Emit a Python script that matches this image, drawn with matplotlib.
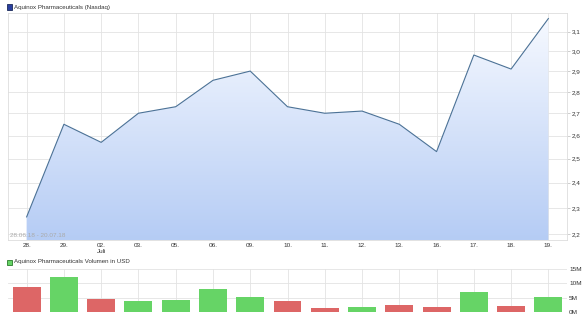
import numpy as np
import matplotlib.pyplot as plt
from matplotlib.patches import Rectangle
from matplotlib.ticker import FixedLocator, NullLocator, FuncFormatter

# data
days = ["28.", "29.", "02.\nJuli", "03.", "05.", "06.", "09.", "10.",
        "11.", "12.", "13.", "16.", "17.", "18.", "19."]
price = [2.265, 2.65, 2.57, 2.70, 2.73, 2.855, 2.90, 2.73,
         2.70, 2.71, 2.65, 2.53, 2.98, 2.91, 3.17]
volume = [8.6, 12.1, 4.5, 3.8, 4.1, 7.9, 5.2, 3.8,
          1.3, 1.7, 2.6, 1.7, 6.9, 2.1, 5.2]  # millions USD
vol_up = [False, True, False, True, True, True, True, False,
          False, True, False, False, True, False, True]
price_ticks = [2.2, 2.3, 2.4, 2.5, 2.6, 2.7, 2.8, 2.9, 3.0, 3.1]
vol_ticks = [0, 5, 10, 15]

plt.rcParams['font.family'] = ['Liberation Sans', 'DejaVu Sans']
grid_c = "#e3e3e3"
text_c = "#333333"
green = "#66d466"
red = "#dd6666"

fig = plt.figure(figsize=(5.82, 3.21), dpi=100)
W, H = 582, 321

def box(l, t, r, b):
    return [l / W, 1 - b / H, (r - l) / W, (b - t) / H]

def legend_key(y, face, edge, label):
    fig.patches.append(Rectangle((7 / W, 1 - (y + 2.5) / H), 5 / W, 5 / H,
                                 transform=fig.transFigure, facecolor=face,
                                 edgecolor=edge, lw=0.6))
    fig.text(14 / W, 1 - y / H, label, fontsize=4.4, color=text_c, va="center")

x = np.arange(len(days))

# price panel
ax = fig.add_axes(box(8, 13, 567, 240))
ax.set_yscale("log")
ax.set_xlim(-0.5, len(days) - 0.5)
ax.set_ylim(2.178, 3.20)

poly = ax.fill_between(x, price, 1.0, color="none", lw=0)
grad = np.linspace(0, 1, 256).reshape(-1, 1)
top = np.array([0.97, 0.98, 1.0])
bot = np.array([0.71, 0.80, 0.96])
img = top + (bot - top) * grad[..., None]
im = ax.imshow(img, extent=[0, 1, 0, 1], transform=ax.transAxes,
               aspect="auto", zorder=1)
im.set_clip_path(poly.get_paths()[0], transform=ax.transData)
ax.plot(x, price, color="#4c7296", lw=0.8, zorder=3)

ax.yaxis.set_major_locator(FixedLocator(price_ticks))
ax.yaxis.set_minor_locator(NullLocator())
ax.yaxis.set_major_formatter(FuncFormatter(lambda v, p: f"{v:.1f}".replace(".", ",")))
ax.yaxis.tick_right()
ax.set_xticks(x)
ax.set_xticklabels(days)
ax.tick_params(axis="both", labelsize=4.6, colors=text_c, length=2, width=0.5, pad=1.5)
ax.tick_params(axis="x", length=0, pad=2)
ax.tick_params(axis="y", color="#bbbbbb")
ax.grid(True, color=grid_c, lw=0.6, zorder=0)
ax.set_axisbelow(True)
for s in ax.spines.values():
    s.set_color("#dddddd")
    s.set_linewidth(0.6)
ax.text(0.003, 0.012, "28.06.18 - 20.07.18", transform=ax.transAxes,
        fontsize=4.6, color="#aaaaaa", zorder=4)

legend_key(7, "#2a3f9f", "#1a2a5a", "Aquinox Pharmaceuticals (Nasdaq)")

# volume panel
av = fig.add_axes(box(8, 269, 567, 312))
av.set_xlim(-0.5, len(days) - 0.5)
av.set_ylim(0, 15)
colors = [green if u else red for u in vol_up]
av.bar(x, volume, width=0.75, color=colors, zorder=2)
av.set_xticks(x)
av.set_xticklabels([])
av.set_yticks(vol_ticks)
av.set_yticklabels([f"{v}M" for v in vol_ticks])
av.yaxis.tick_right()
av.tick_params(axis="both", labelsize=4.6, colors=text_c, length=0, pad=1.5)
av.grid(True, color=grid_c, lw=0.6, zorder=0)
av.set_axisbelow(True)
for s in av.spines.values():
    s.set_visible(False)

legend_key(262, green, "#2a7a2a", "Aquinox Pharmaceuticals Volumen in USD")

fig.savefig("out.png", dpi=100)
